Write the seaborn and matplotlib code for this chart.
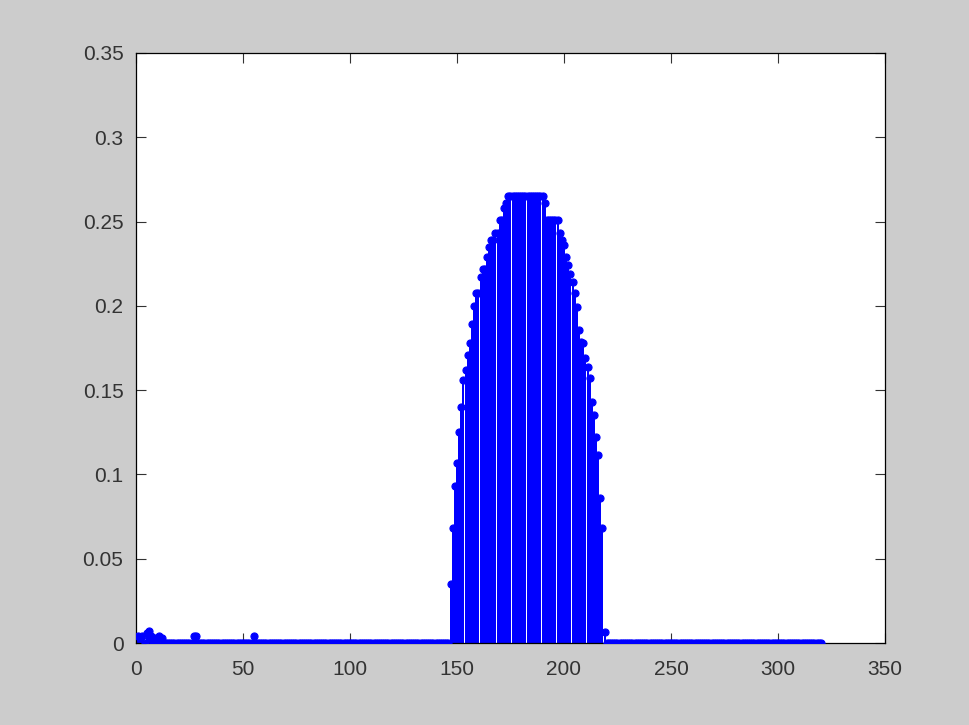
import numpy as np
import pandas as pd
import matplotlib
matplotlib.use("Agg")
import matplotlib.pyplot as plt
import seaborn as sns

# ---- data ----
n_samples = 320
small_idx = [1, 2, 3, 5, 6, 7, 9, 11, 12, 27, 28, 55]
small_val = [0.004, 0.003, 0.004, 0.006, 0.007, 0.004, 0.003, 0.004, 0.003, 0.004, 0.004, 0.004]

peak_start = 147
peak_val = [
    0.035, 0.068, 0.093, 0.107, 0.125, 0.140, 0.156, 0.162, 0.171, 0.178,   # 147-156
    0.189, 0.200, 0.2075, 0.2075, 0.217, 0.222, 0.222, 0.229, 0.235, 0.239, # 157-166
    0.239, 0.243, 0.243, 0.251, 0.251, 0.258, 0.261, 0.265, 0.265, 0.265,   # 167-176
    0.265, 0.265, 0.265, 0.265, 0.265, 0.265, 0.265, 0.265, 0.265, 0.265,   # 177-186
    0.265, 0.265, 0.265, 0.265, 0.261, 0.251, 0.251, 0.251, 0.251, 0.251,   # 187-196
    0.251, 0.243, 0.239, 0.236, 0.229, 0.224, 0.219, 0.214, 0.2075, 0.1995, # 197-206
    0.1857, 0.1787, 0.178, 0.169, 0.164, 0.157, 0.143, 0.135, 0.122, 0.1115,# 207-216
    0.0858, 0.068, 0.0067,                                                   # 217-219
]

x_ticks = [0, 50, 100, 150, 200, 250, 300, 350]
y_ticks = [0, 0.05, 0.1, 0.15, 0.2, 0.25, 0.3, 0.35]
y_tick_labels = ["0", "0.05", "0.1", "0.15", "0.2", "0.25", "0.3", "0.35"]

# ---- build series ----
x = np.arange(1, n_samples + 1)
y = np.zeros(n_samples)
for i, v in zip(small_idx, small_val):
    y[i - 1] = v
for k, v in enumerate(peak_val):
    y[peak_start - 1 + k] = v
df = pd.DataFrame({"n": x, "value": y})

# ---- style ----
sns.set_style("white")
plt.rcParams["font.family"] = ["Liberation Sans", "DejaVu Sans"]

fig = plt.figure(figsize=(9.69, 7.25), dpi=100, facecolor="#cccccc")
ax = fig.add_axes([0.1403, 0.1131, 0.7730, 0.8138])
ax.set_facecolor("white")

blue = (0, 0, 1)
ax.vlines(df["n"], 0, df["value"], colors=[blue], linewidth=1.35,
          antialiased=False, zorder=2)
sns.scatterplot(data=df, x="n", y="value", ax=ax, color=blue, s=26,
                edgecolor=blue, linewidth=0.8, zorder=3, legend=False)

ax.set_xlim(0, 350)
ax.set_ylim(0, 0.35)
ax.set_xticks(x_ticks)
ax.set_xticklabels([str(t) for t in x_ticks])
ax.set_yticks(y_ticks)
ax.set_yticklabels(y_tick_labels)
ax.set_xlabel("")
ax.set_ylabel("")

for s in ax.spines.values():
    s.set_visible(True)
    s.set_color("black")
    s.set_linewidth(0.9)

ax.tick_params(direction="in", length=7, width=0.8, colors="#333333",
               labelsize=15, top=True, right=True, bottom=True, left=True,
               labeltop=False, labelright=False)
ax.tick_params(axis="x", pad=12)
ax.tick_params(axis="y", pad=9)

fig.savefig("out.png", dpi=100, facecolor=fig.get_facecolor())
